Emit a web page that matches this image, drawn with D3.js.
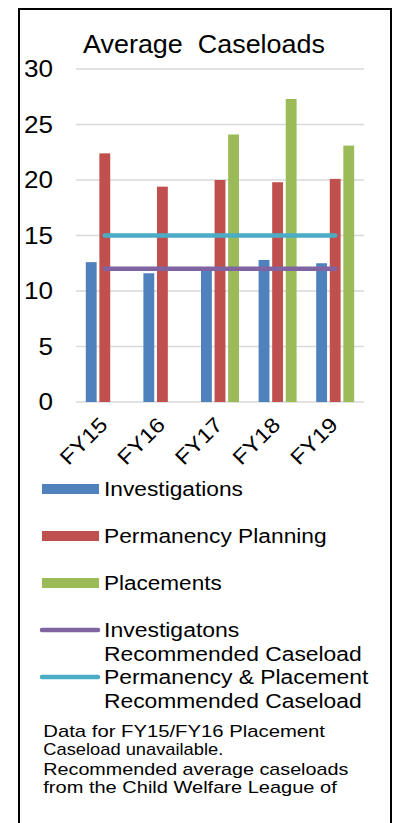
<!DOCTYPE html>
<html>
<head>
<meta charset="utf-8">
<script src="https://cdn.jsdelivr.net/npm/d3@7"></script>
<style>
  html, body { margin: 0; padding: 0; background: #fff; }
  svg { display: block; }
  text { font-family: "Liberation Sans", Arial, sans-serif; fill: #000; white-space: pre; }
</style>
</head>
<body>
<div id="chart"></div>
<script>
// Fiscal years on the x axis
const years = ["FY15", "FY16", "FY17", "FY18", "FY19"];

// Average caseloads per worker
const investigations = [12.6, 11.6, 11.8, 12.8, 12.5];
const permanencyPlanning = [22.4, 19.4, 20.0, 19.8, 20.1];
const placements = [null, null, 24.1, 27.3, 23.1]; // FY15/FY16 not available

// Recommended caseload benchmarks
const investigationsRecommended = [12, 12, 12, 12, 12];
const permanencyPlacementRecommended = [15, 15, 15, 15, 15];

const yTicks = [0, 5, 10, 15, 20, 25, 30];

const barSeries = [
  { name: "Investigations", values: investigations, color: "#4F81BD" },
  { name: "Permanency Planning", values: permanencyPlanning, color: "#C0504D" },
  { name: "Placements", values: placements, color: "#9BBB59" }
];
const lineSeries = [
  { name: ["Investigatons", "Recommended Caseload"], values: investigationsRecommended, color: "#8064A2" },
  { name: ["Permanency & Placement", "Recommended Caseload"], values: permanencyPlacementRecommended, color: "#4BACC6" }
];

const W = 398, H = 823;
const svg = d3.select("#chart").append("svg").attr("width", W).attr("height", H);

// outer frame
svg.append("rect")
  .attr("x", 19).attr("y", 9).attr("width", 372).attr("height", 840)
  .attr("fill", "none").attr("stroke", "#000").attr("stroke-width", 2);

// text helper: stretched to a given width
function label(g, x, y, str, size, len, anchor) {
  const t = g.append("text").attr("x", x).attr("y", y)
    .attr("font-size", size).text(str);
  if (anchor) t.attr("text-anchor", anchor);
  if (len) t.attr("textLength", len).attr("lengthAdjust", "spacingAndGlyphs");
  return t;
}

// title
label(svg, 83, 53, "Average  Caseloads", 25.5, 242);

const x0 = d3.scaleBand().domain(years).range([76, 364]).paddingInner(0).paddingOuter(0);
const groupW = 38;
const x1 = d3.scaleBand().domain(barSeries.map(d => d.name)).range([0, groupW]).paddingInner(0.2);
const y = d3.scaleLinear().domain([0, 30]).range([402, 69]);

// gridlines
svg.append("g").selectAll("line").data(yTicks).join("line")
  .attr("x1", 76).attr("x2", 364)
  .attr("y1", d => y(d)).attr("y2", d => y(d))
  .attr("stroke", "#D9D9D9").attr("stroke-width", 1.5);

// y tick labels
const yAxis = svg.append("g");
yTicks.forEach(t => {
  label(yAxis, 53, y(t) + 8.3, String(t), 23, t >= 10 ? 29 : 14.5, "end");
});

// bars
const bars = svg.append("g");
barSeries.forEach(s => {
  bars.append("g").selectAll("rect")
    .data(years.map((yr, i) => ({ yr, v: s.values[i] })).filter(d => d.v != null))
    .join("rect")
    .attr("x", d => x0(d.yr) + x0.bandwidth() / 2 - groupW / 2 + x1(s.name))
    .attr("width", x1.bandwidth())
    .attr("y", d => y(d.v))
    .attr("height", d => y(0) - y(d.v))
    .attr("fill", s.color);
});

// recommended caseload lines
const line = d3.line()
  .x((d, i) => x0(years[i]) + x0.bandwidth() / 2)
  .y(d => y(d));
lineSeries.forEach(s => {
  svg.append("path").datum(s.values)
    .attr("d", line)
    .attr("fill", "none").attr("stroke", s.color)
    .attr("stroke-width", 4.5).attr("stroke-linecap", "round");
});

// x tick labels, rotated
const xAxis = svg.append("g");
years.forEach(yr => {
  const cx = x0(yr) + x0.bandwidth() / 2 + 4;
  const cy = 426;
  label(xAxis, 0, 0, yr, 21, 57, "end")
    .attr("transform", `translate(${cx},${cy}) rotate(-45)`);
});

// legend
const legend = svg.append("g");
const barRowsY = [489, 536, 583];
const barLabelLen = [139, 222.7, 117.7];
barSeries.forEach((s, i) => {
  legend.append("rect").attr("x", 42).attr("y", barRowsY[i] - 5)
    .attr("width", 57).attr("height", 10).attr("fill", s.color);
  label(legend, 104, barRowsY[i] + 7, s.name, 19.5, barLabelLen[i]);
});
const lineRowsY = [630, 677];
const lineLabelLens = [[135.3, 257.7], [264.3, 257.7]];
lineSeries.forEach((s, i) => {
  legend.append("line")
    .attr("x1", 42).attr("x2", 98)
    .attr("y1", lineRowsY[i]).attr("y2", lineRowsY[i])
    .attr("stroke", s.color).attr("stroke-width", 4.5).attr("stroke-linecap", "round");
  s.name.forEach((part, j) => {
    label(legend, 104, lineRowsY[i] + 6.5 + j * 24, part, 19.5, lineLabelLens[i][j]);
  });
});

// footnote
const notes = [
  { text: "Data for FY15/FY16 Placement", y: 737, len: 281.7 },
  { text: "Caseload unavailable.", y: 755, len: 180 },
  { text: "Recommended average caseloads", y: 775, len: 305 },
  { text: "from the Child Welfare League of", y: 793, len: 293.4 }
];
const foot = svg.append("g");
notes.forEach(n => label(foot, 43.3, n.y, n.text, 17, n.len));
</script>
</body>
</html>
